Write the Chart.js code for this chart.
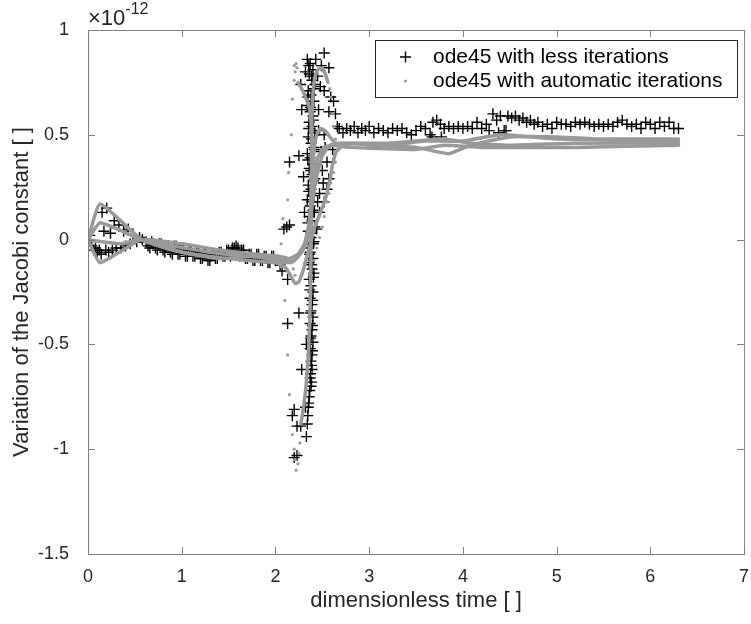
<!DOCTYPE html>
<html>
<head>
<meta charset="utf-8">
<script src="https://cdn.jsdelivr.net/npm/chart.js@4.4.0/dist/chart.umd.min.js"></script>
<style>
  html, body { margin: 0; padding: 0; background: #fff; }
</style>
</head>
<body>
<canvas id="jacobiChart" width="751" height="624"></canvas>
<script>
// values are in units of 1e-12, time is dimensionless
const xTicks = [0, 1, 2, 3, 4, 5, 6, 7];
const yTicks = [-1.5, -1, -0.5, 0, 0.5, 1];
const yTickLabels = ["-1.5", "-1", "-0.5", "0", "0.5", "1"];

// ode45 with less iterations (black + markers)
const lessIter = [
  [0.00, 0.00], [0.02, 0.02], [0.04, -0.03], [0.06, -0.05], [0.08, -0.04], [0.10, -0.06],
  [0.12, -0.05], [0.14, -0.07], [0.15, 0.13], [0.17, 0.04], [0.19, -0.05], [0.20, 0.15],
  [0.22, -0.06], [0.24, 0.03], [0.26, -0.05], [0.28, 0.09], [0.30, -0.04], [0.33, 0.07],
  [0.35, -0.04], [0.38, 0.04], [0.40, -0.03], [0.43, 0.05], [0.45, -0.02], [0.48, 0.02],
  [0.52, -0.01], [0.55, 0.01], [0.58, 0.00],
  [0.62, -0.01], [0.64, -0.03], [0.66, -0.04], [0.68, -0.01], [0.70, -0.02], [0.72, -0.04],
  [0.74, -0.05], [0.76, -0.02], [0.78, -0.02], [0.80, -0.05], [0.82, -0.06], [0.84, -0.03],
  [0.86, -0.03], [0.88, -0.06], [0.90, -0.07], [0.92, -0.03], [0.94, -0.03], [0.96, -0.07],
  [0.98, -0.07], [1.00, -0.04], [1.02, -0.04], [1.04, -0.08], [1.06, -0.08], [1.08, -0.05],
  [1.10, -0.05], [1.12, -0.08], [1.14, -0.08], [1.16, -0.06], [1.18, -0.06], [1.20, -0.09],
  [1.22, -0.09], [1.24, -0.07], [1.26, -0.07], [1.28, -0.10], [1.30, -0.10], [1.32, -0.07],
  [1.34, -0.07], [1.36, -0.09], [1.38, -0.09], [1.40, -0.06], [1.42, -0.06], [1.44, -0.08],
  [1.46, -0.08], [1.48, -0.05], [1.50, -0.05], [1.52, -0.08], [1.54, -0.04], [1.56, -0.04],
  [1.58, -0.03], [1.60, -0.04], [1.62, -0.08], [1.64, -0.05], [1.66, -0.05], [1.68, -0.09],
  [1.70, -0.09], [1.72, -0.07], [1.74, -0.07], [1.76, -0.10], [1.78, -0.10], [1.80, -0.07],
  [1.82, -0.07], [1.84, -0.10], [1.86, -0.10], [1.88, -0.08], [1.90, -0.08], [1.92, -0.11],
  [1.94, -0.11], [1.96, -0.08], [1.98, -0.08], [2.00, -0.10], [2.02, -0.10], [2.05, -0.12],
  // around the jump
  [2.09, 0.05], [2.12, 0.06], [2.15, 0.07], [2.13, -0.19], [2.07, -0.15], [2.25, -0.35],
  [2.13, -0.40], [2.33, -0.50], [2.20, -0.81], [2.18, -0.84], [2.23, -0.89], [2.27, -0.89],
  [2.20, -1.04], [2.23, -1.03], [2.32, -0.80], [2.15, 0.37], [2.25, 0.40], [2.52, 0.89],
  [2.43, 0.86], [2.57, 0.82], [2.27, 0.74], [2.52, 0.71], [2.59, 0.68], [2.62, 0.66],
  [2.64, 0.60], [2.66, 0.54], [2.46, 0.62], [2.57, 0.61], [2.28, 0.62], [2.57, 0.29],
  [2.55, 0.24], [2.52, 0.18], [2.47, 0.13], [2.31, 0.13], [2.53, 0.44], [2.61, 0.43],
  [2.55, 0.37], [2.46, 0.52], [2.48, 0.73], [2.50, 0.33], [2.47, 0.22], [2.44, 0.05],
  [2.52, 0.50], [2.45, 0.78], [2.49, 0.83], [2.28, -0.62], [2.44, 0.36], [2.49, 0.42],
  [2.45, 0.18], [2.51, 0.27], [2.30, 0.30], [2.32, 0.80],
  [2.34, 0.86], [2.37, 0.84], [2.40, 0.81], [2.36, 0.79], [2.39, 0.76], [2.42, 0.74],
  [2.35, 0.71], [2.38, 0.69], [2.41, 0.66], [2.34, 0.64], [2.37, 0.61], [2.40, 0.59],
  [2.36, 0.56], [2.39, 0.54], [2.42, 0.51], [2.35, 0.49], [2.38, 0.46], [2.41, 0.44],
  [2.34, 0.41], [2.37, 0.39], [2.40, 0.36], [2.36, 0.34], [2.39, 0.31], [2.42, 0.29],
  [2.35, 0.26], [2.38, 0.24], [2.41, 0.21], [2.34, 0.19], [2.37, 0.16], [2.40, 0.14],
  [2.36, 0.11], [2.39, 0.09], [2.42, 0.06], [2.35, 0.04], [2.38, 0.01], [2.41, -0.01],
  [2.35, -0.04], [2.37, -0.06], [2.40, -0.09], [2.36, -0.11], [2.39, -0.14], [2.41, -0.16],
  [2.36, -0.19], [2.38, -0.22], [2.40, -0.25], [2.37, -0.28], [2.39, -0.31], [2.38, -0.34],
  [2.40, -0.37], [2.37, -0.40], [2.39, -0.43], [2.38, -0.46], [2.40, -0.49], [2.37, -0.52],
  [2.39, -0.55], [2.38, -0.58], [2.39, -0.62], [2.37, -0.66], [2.38, -0.70], [2.36, -0.75],
  [2.35, -0.80], [2.34, -0.88], [2.33, -0.94],
  [2.355, 0.83], [2.385, 0.78], [2.415, 0.72], [2.345, 0.68], [2.375, 0.63], [2.405, 0.57],
  [2.355, 0.53], [2.385, 0.48], [2.415, 0.43], [2.345, 0.38], [2.375, 0.33], [2.405, 0.28],
  [2.355, 0.23], [2.385, 0.18], [2.415, 0.13], [2.345, 0.08], [2.375, 0.03], [2.405, -0.02],
  [2.365, -0.07], [2.385, -0.12], [2.405, -0.18], [2.365, -0.24], [2.395, -0.29],
  [2.375, -0.35], [2.395, -0.41], [2.375, -0.47], [2.395, -0.53], [2.385, -0.60],
  [2.375, -0.64], [2.385, -0.68], [2.365, -0.72], [2.355, -0.78], [2.345, -0.84],
  // plateau
  [2.68, 0.53], [2.72, 0.51], [2.76, 0.53], [2.80, 0.52], [2.84, 0.54], [2.88, 0.51],
  [2.92, 0.53], [2.96, 0.52], [3.00, 0.54], [3.05, 0.51], [3.10, 0.53], [3.15, 0.52],
  [3.20, 0.51], [3.25, 0.53], [3.30, 0.52], [3.35, 0.53], [3.40, 0.51], [3.45, 0.50],
  [3.50, 0.52], [3.55, 0.54], [3.60, 0.53], [3.65, 0.50], [3.67, 0.49], [3.68, 0.56],
  [3.72, 0.57], [3.76, 0.55], [3.77, 0.49], [3.80, 0.53], [3.85, 0.54], [3.90, 0.53],
  [3.95, 0.54], [4.00, 0.53], [4.05, 0.54], [4.10, 0.53], [4.15, 0.56], [4.20, 0.53],
  [4.25, 0.55], [4.28, 0.52], [4.32, 0.60], [4.36, 0.57], [4.38, 0.51], [4.40, 0.59],
  [4.44, 0.52], [4.46, 0.52], [4.48, 0.59], [4.52, 0.58], [4.56, 0.59], [4.60, 0.57],
  [4.64, 0.58], [4.68, 0.56], [4.72, 0.57], [4.76, 0.55], [4.80, 0.56], [4.85, 0.54],
  [4.90, 0.55], [4.95, 0.53], [5.00, 0.56], [5.05, 0.55], [5.10, 0.55], [5.15, 0.54],
  [5.20, 0.56], [5.25, 0.55], [5.30, 0.56], [5.35, 0.55], [5.40, 0.54], [5.45, 0.55],
  [5.50, 0.54], [5.55, 0.55], [5.60, 0.54], [5.65, 0.56], [5.70, 0.57], [5.75, 0.55],
  [5.80, 0.54], [5.85, 0.55], [5.90, 0.53], [5.95, 0.56], [6.00, 0.55], [6.05, 0.53],
  [6.10, 0.56], [6.15, 0.54], [6.20, 0.56], [6.25, 0.53], [6.30, 0.53]
];

// ode45 with automatic iterations: dense runs look like thick grey curves
const autoRunA = [
  [0, 0], [0.13, 0.17], [0.57, 0.0], [0.9, -0.05], [1.3, -0.08], [1.7, -0.10], [2.0, -0.11],
  [2.1, -0.13], [2.16, -0.17], [2.21, -0.21], [2.25, -0.20], [2.3, -0.14], [2.36, -0.04],
  [2.42, 0.06], [2.48, 0.13], [2.53, 0.19], [2.58, 0.28], [2.61, 0.36], [2.65, 0.42],
  [2.72, 0.45], [2.85, 0.46], [3.0, 0.45], [3.5, 0.44], [3.85, 0.41], [4.08, 0.45],
  [4.5, 0.49], [5.0, 0.49], [5.5, 0.48], [6.3, 0.48]
];
const autoRunB = [
  [0, 0], [0.13, 0.08], [0.57, 0.0], [0.9, -0.03], [1.3, -0.06], [1.7, -0.08], [2.0, -0.09],
  [2.1, -0.10], [2.16, -0.11], [2.22, -0.09], [2.29, -0.05], [2.34, 0.02], [2.37, 0.12],
  [2.39, 0.28], [2.41, 0.42], [2.44, 0.50], [2.48, 0.53], [2.53, 0.52], [2.58, 0.49],
  [2.64, 0.46], [2.75, 0.46], [3.2, 0.46], [3.8, 0.48], [4.08, 0.46], [4.5, 0.45],
  [5.2, 0.46], [6.3, 0.46]
];
const autoRunC = [
  [0, 0], [0.13, -0.11], [0.57, 0.0], [1.0, -0.02], [1.4, -0.05], [1.8, -0.07], [2.05, -0.08],
  [2.15, -0.09], [2.24, -0.07], [2.31, -0.02], [2.36, 0.08], [2.39, 0.22], [2.42, 0.33],
  [2.46, 0.40], [2.52, 0.44], [2.6, 0.45], [2.8, 0.44], [3.5, 0.43], [3.8, 0.45],
  [4.2, 0.44], [4.6, 0.44], [5.2, 0.44], [6.3, 0.45]
];
const autoRunD = [
  [2.27, -0.88], [2.3, -0.80], [2.33, -0.68], [2.355, -0.52], [2.37, -0.32], [2.378, -0.1],
  [2.382, 0.15], [2.385, 0.4], [2.39, 0.6], [2.40, 0.70], [2.42, 0.77], [2.45, 0.81],
  [2.48, 0.82], [2.51, 0.81], [2.54, 0.78], [2.56, 0.75]
];
const autoRunE = [
  [0, 0], [0.15, -0.01], [0.35, -0.02], [0.57, 0.0], [1.0, -0.06], [1.4, -0.09],
  [1.8, -0.08], [2.1, -0.11], [2.2, -0.10], [2.28, -0.06], [2.34, 0.0], [2.37, 0.08],
  [2.40, 0.2], [2.44, 0.30], [2.5, 0.40], [2.58, 0.45], [2.7, 0.46], [3.2, 0.45],
  [3.6, 0.47], [4.0, 0.47], [4.4, 0.50], [5.0, 0.48], [6.3, 0.47]
];
const autoRunF = [
  [2.24, 0.75], [2.28, 0.72], [2.32, 0.68], [2.36, 0.63], [2.38, 0.55], [2.39, 0.42]
];
const autoDots = [
  [2.08, 0.10], [2.06, -0.02], [2.06, -0.13], [2.10, -0.29], [2.13, -0.55], [2.15, -0.74],
  [2.18, -0.93], [2.20, -1.00], [2.21, -1.05], [2.22, -1.10], [2.24, -1.07], [2.25, -1.02],
  [2.26, -0.97], [2.13, 0.19], [2.14, 0.32], [2.17, 0.50], [2.18, 0.67],
  [2.20, 0.76], [2.21, 0.80], [2.20, 0.83], [2.22, 0.84], [2.23, 0.82], [2.58, 0.72],
  [2.59, 0.68], [2.61, 0.60], [2.62, 0.54], [2.64, 0.48], [2.645, 0.42],
  [2.64, 0.37], [2.62, 0.32], [2.59, 0.27], [2.57, 0.22], [2.55, 0.18], [2.52, 0.11],
  [2.50, 0.06], [2.47, 0.01], [2.44, -0.04], [2.41, -0.10], [2.19, -0.14], [2.21, -0.17]
];

const toXY = (arr) => arr.map((p) => ({ x: p[0], y: p[1] }));
const grey = "#999999";
const FONT = '"Liberation Sans", Arial, Helvetica, sans-serif';

function runDataset(arr) {
  return {
    data: toXY(arr),
    showLine: true,
    borderColor: grey,
    borderWidth: 3.5,
    pointRadius: 0,
    tension: 0.15,
    borderJoinStyle: "round",
    borderCapStyle: "round",
    order: 0,
  };
}

const matlabAxes = {
  id: "matlabAxes",
  afterDraw(chart) {
    const ctx = chart.ctx;
    const a = chart.chartArea;
    const xs = chart.scales.x;
    const ys = chart.scales.y;
    ctx.save();
    ctx.strokeStyle = "#808080";
    ctx.lineWidth = 1;
    ctx.strokeRect(a.left + 0.5, a.top + 0.5, a.right - a.left, a.bottom - a.top);
    ctx.beginPath();
    xTicks.forEach((t) => {
      const px = Math.round(xs.getPixelForValue(t)) + 0.5;
      ctx.moveTo(px, a.bottom); ctx.lineTo(px, a.bottom - 7);
      ctx.moveTo(px, a.top); ctx.lineTo(px, a.top + 7);
    });
    yTicks.forEach((v) => {
      const py = Math.round(ys.getPixelForValue(v)) + 0.5;
      ctx.moveTo(a.left, py); ctx.lineTo(a.left + 7, py);
      ctx.moveTo(a.right, py); ctx.lineTo(a.right - 7, py);
    });
    ctx.stroke();

    ctx.fillStyle = "#262626";
    ctx.font = "18px " + FONT;
    ctx.textAlign = "center";
    ctx.textBaseline = "middle";
    xTicks.forEach((t) => {
      ctx.fillText(String(t), xs.getPixelForValue(t), a.bottom + 23);
    });
    ctx.textAlign = "right";
    yTicks.forEach((v, i) => {
      ctx.fillText(yTickLabels[i], a.left - 19, ys.getPixelForValue(v));
    });

    // exponent
    ctx.textAlign = "left";
    ctx.textBaseline = "alphabetic";
    ctx.font = "22px " + FONT;
    ctx.fillText("\u00d710", a.left, a.top - 5);
    const w = ctx.measureText("\u00d710").width;
    ctx.font = "16px " + FONT;
    ctx.fillText("-12", a.left + w, a.top - 16);

    // axis titles
    ctx.font = "22px " + FONT;
    ctx.textAlign = "center";
    ctx.textBaseline = "middle";
    ctx.fillText("dimensionless time [ ]", (a.left + a.right) / 2, a.bottom + 47);
    ctx.save();
    ctx.translate(22, (a.top + a.bottom) / 2);
    ctx.rotate(-Math.PI / 2);
    ctx.fillText("Variation of the Jacobi constant [ ]", 0, 0);
    ctx.restore();

    // legend
    const lx = 375, ly = 40, lw = 362, lh = 57;
    ctx.fillStyle = "#ffffff";
    ctx.fillRect(lx, ly, lw, lh);
    ctx.strokeStyle = "#262626";
    ctx.lineWidth = 1;
    ctx.strokeRect(lx + 0.5, ly + 0.5, lw, lh);
    ctx.strokeStyle = "#000";
    ctx.lineWidth = 1.4;
    ctx.beginPath();
    ctx.moveTo(400, 57); ctx.lineTo(411, 57);
    ctx.moveTo(405.5, 51.5); ctx.lineTo(405.5, 62.5);
    ctx.stroke();
    ctx.fillStyle = grey;
    ctx.beginPath();
    ctx.arc(405.5, 81, 1.6, 0, Math.PI * 2);
    ctx.fill();
    ctx.fillStyle = "#000";
    ctx.font = "21px " + FONT;
    ctx.textAlign = "left";
    ctx.fillText("ode45 with less iterations", 433, 57);
    ctx.fillText("ode45 with automatic iterations", 433, 81);
    ctx.restore();
  },
};

new Chart(document.getElementById("jacobiChart"), {
  type: "scatter",
  data: {
    datasets: [
      {
        label: "ode45 with less iterations",
        data: toXY(lessIter),
        pointStyle: "cross",
        pointRadius: 5.5,
        borderColor: "#000000",
        borderWidth: 1.4,
        order: 1,
      },
      runDataset(autoRunA),
      runDataset(autoRunB),
      runDataset(autoRunC),
      runDataset(autoRunD),
      runDataset(autoRunE),
      runDataset(autoRunF),
      {
        label: "ode45 with automatic iterations",
        data: toXY(autoDots),
        pointStyle: "circle",
        pointRadius: 1.6,
        backgroundColor: grey,
        borderWidth: 0,
        order: 0,
      },
    ],
  },
  options: {
    responsive: false,
    animation: false,
    devicePixelRatio: 1,
    layout: { padding: { left: 88, top: 30, right: 4, bottom: 70 } },
    scales: {
      x: { type: "linear", min: 0, max: 7, display: false },
      y: { type: "linear", min: -1.5, max: 1, display: false },
    },
    plugins: { legend: { display: false }, tooltip: { enabled: false } },
  },
  plugins: [matlabAxes],
});
</script>
</body>
</html>
